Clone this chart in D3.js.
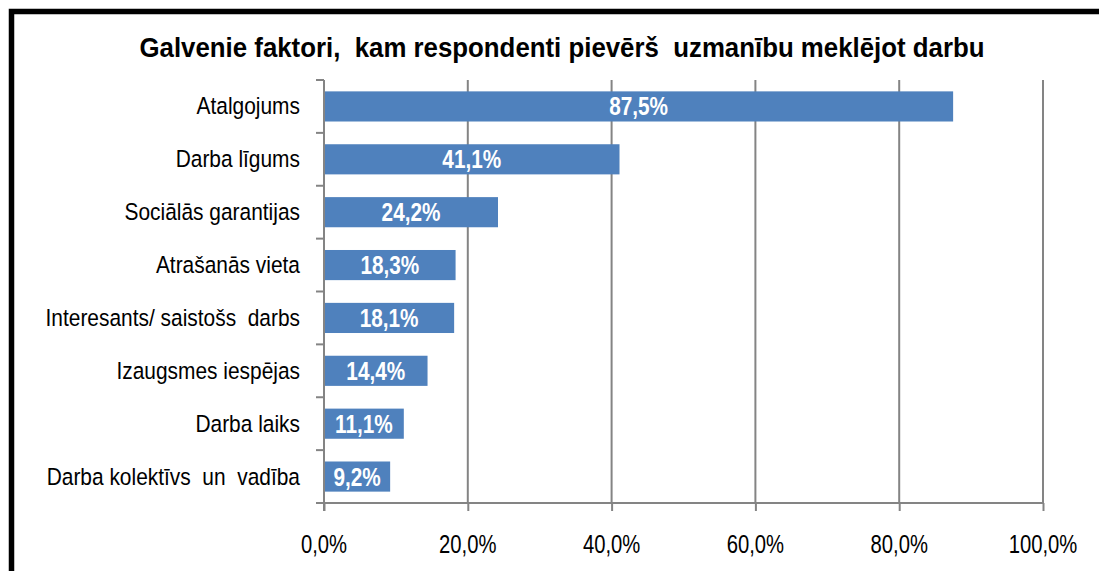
<!DOCTYPE html>
<meta charset="utf-8">
<script src="https://d3js.org/d3.v7.min.js"></script>
<style>
  body { margin: 0; background: #fff; }
  text { font-family: "Liberation Sans", Arial, sans-serif; white-space: pre; }
  .grid line { stroke: #848484; stroke-width: 2px; }
  .axis path, .axis line { stroke: #848484; stroke-width: 2px; fill: none; }
</style>
<body>
<div id="chart"></div>
<script>
// data
var categories = ["Atalgojums", "Darba līgums", "Sociālās garantijas", "Atrašanās vieta",
                  "Interesants/ saistošs  darbs", "Izaugsmes iespējas", "Darba laiks",
                  "Darba kolektīvs  un  vadība"];
var values = [87.5, 41.1, 24.2, 18.3, 18.1, 14.4, 11.1, 9.2];
var xTicks = [0, 20, 40, 60, 80, 100];
var title = "Galvenie faktori,  kam respondenti pievērš  uzmanību meklējot darbu";

var W = 1099, H = 571;
var plot = {left: 324, right: 1043, top: 80, bottom: 503};

var svg = d3.select("#chart").append("svg")
    .attr("width", W).attr("height", H);

var fmt = function(v) { return d3.format(".1f")(v).replace(".", ",") + "%"; };

var x = d3.scaleLinear().domain([0, 100]).range([plot.left, plot.right]);
var y = d3.scaleBand().domain(categories).range([plot.top, plot.bottom])
    .paddingInner(0.43).paddingOuter(0.215);

// frame (only top and left edges are visible in the picture)
svg.append("rect")
    .attr("x", 11.5).attr("y", 11.5)
    .attr("width", W + 20).attr("height", H + 20)
    .attr("fill", "none").attr("stroke", "#000").attr("stroke-width", 5.5);

// squeeze text horizontally like the original
function place(sel, px, py, sx) {
  sel.attr("transform", "translate(" + px + "," + py + ") scale(" + sx + ",1)");
}

svg.append("text")
    .attr("text-anchor", "middle")
    .attr("font-weight", "bold")
    .attr("font-size", 27.5)
    .attr("textLength", 845)
    .attr("lengthAdjust", "spacingAndGlyphs")
    .attr("x", 562).attr("y", 57)
    .text(title);

// vertical gridlines
svg.append("g").attr("class", "grid")
  .selectAll("line")
  .data(xTicks.slice(1))
  .enter().append("line")
    .attr("x1", function(d) { return x(d); })
    .attr("x2", function(d) { return x(d); })
    .attr("y1", plot.top).attr("y2", plot.bottom);

// bars
svg.append("g")
  .selectAll("rect")
  .data(values)
  .enter().append("rect")
    .attr("x", x(0))
    .attr("y", function(d, i) { return y(categories[i]); })
    .attr("width", function(d) { return x(d) - x(0); })
    .attr("height", y.bandwidth())
    .attr("fill", "#4f81bd");

// value labels
svg.append("g")
  .selectAll("text")
  .data(values)
  .enter().append("text")
    .attr("text-anchor", "middle")
    .attr("font-weight", "bold")
    .attr("font-size", 25)
    .attr("fill", "#fff")
    .each(function(d, i) {
      place(d3.select(this), (x(0) + x(d)) / 2, y(categories[i]) + y.bandwidth() / 2 + 9, 0.83);
    })
    .text(fmt);

// bottom axis
var xAxis = svg.append("g").attr("class", "axis")
    .attr("transform", "translate(0," + plot.bottom + ")")
    .call(d3.axisBottom(x).tickValues(xTicks).tickSize(8).tickSizeOuter(0).tickFormat(fmt));
xAxis.selectAll("text").remove();
xAxis.select(".domain").attr("d", "M" + (x(0) - 8) + ",0H" + x(100));

svg.append("g")
  .selectAll("text")
  .data(xTicks)
  .enter().append("text")
    .attr("text-anchor", "middle")
    .attr("font-size", 25)
    .attr("fill", "#000")
    .each(function(d) { place(d3.select(this), x(d), 553, 0.81); })
    .text(fmt);

// left axis with ticks at band boundaries
var bounds = d3.range(categories.length + 1).map(function(i) {
  return plot.top + i * y.step();
});
var leftAxis = svg.append("g").attr("class", "axis");
leftAxis.append("line")
    .attr("x1", x(0)).attr("x2", x(0))
    .attr("y1", plot.top).attr("y2", plot.bottom + 8);
leftAxis.selectAll(".tk")
  .data(bounds)
  .enter().append("line").attr("class", "tk")
    .attr("x1", x(0) - 8).attr("x2", x(0))
    .attr("y1", function(d) { return d; })
    .attr("y2", function(d) { return d; });

// category labels
svg.append("g")
  .selectAll("text")
  .data(categories)
  .enter().append("text")
    .attr("text-anchor", "end")
    .attr("font-size", 23.5)
    .attr("fill", "#000")
    .each(function(d) { place(d3.select(this), 300, y(d) + y.bandwidth() / 2 + 8, 0.89); })
    .text(function(d) { return d; });
</script>
</body>
